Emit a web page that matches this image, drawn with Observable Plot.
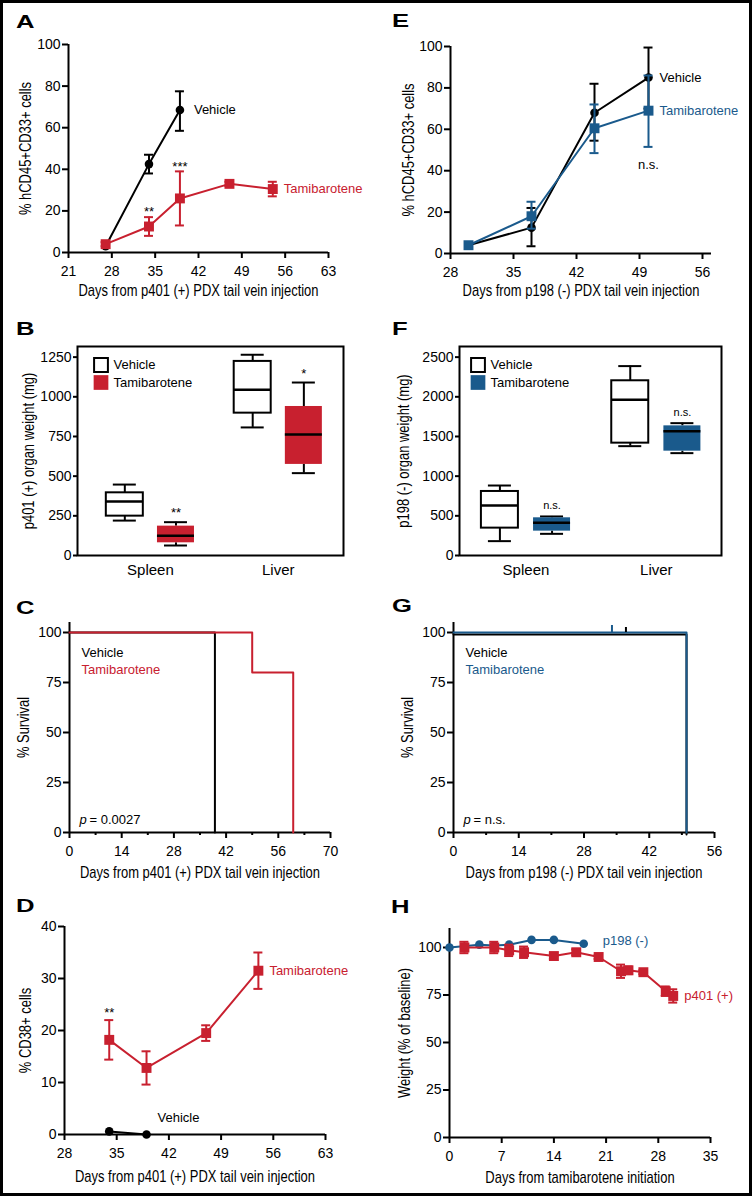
<!DOCTYPE html>
<html>
<head>
<meta charset="utf-8">
<script src="https://cdn.jsdelivr.net/npm/d3@7"></script>
<script src="https://cdn.jsdelivr.net/npm/@observablehq/plot@0.6"></script>
<style>
body { margin: 0; background: #fff; }
#fig { position: relative; width: 752px; height: 1196px; background: #fff; overflow: hidden; font-family: "Liberation Sans", Arial, sans-serif; }
#border { position: absolute; left: 0; top: 0; width: 752px; height: 1196px; box-sizing: border-box; border: 3px solid #000; pointer-events: none; }
.panel { position: absolute; }
.letter { position: absolute; font-weight: bold; font-size: 19px; line-height: 19px; transform: scaleX(1.35); transform-origin: left top; color: #000; }
</style>
</head>
<body>
<div id="fig"><div id="border"></div></div>
<script>
const SANS = '"Liberation Sans", Arial, sans-serif';
const NARROW = '"Liberation Sans Narrow", "Liberation Sans", Arial, sans-serif';
const RED = "#c8202f";
const BLUE = "#1a5a8c";

// ---------- Panel A: p401 (+) engraftment ----------
const aXTicks = [21, 28, 35, 42, 49, 56, 63];
const aYTicks = [0, 20, 40, 60, 80, 100];
const aVehDays = [27, 34, 39];
const aVehMean = [3, 42.5, 68.5];
const aVehLo = [3, 38, 58.5];
const aVehHi = [3, 47, 77.5];
const aTamDays = [27, 34, 39, 47, 54];
const aTamMean = [4, 12.5, 26, 33, 30.5];
const aTamLo = [3, 8, 13, 32, 27];
const aTamHi = [5, 17, 39, 34, 34];
const aTamSig = ["", "**", "***", "", ""];

// ---------- Panel E: p198 (-) engraftment ----------
const eXTicks = [28, 35, 42, 49, 56];
const eYTicks = [0, 20, 40, 60, 80, 100];
const eVehDays = [30, 37, 44, 50];
const eVehMean = [4, 12.5, 68, 85];
const eVehLo = [4, 3.5, 54.5, 70];
const eVehHi = [4, 22, 82, 99.5];
const eTamDays = [30, 37, 44, 50];
const eTamMean = [4, 18, 60.5, 69];
const eTamLo = [4, 12, 48.5, 51.5];
const eTamHi = [4, 25, 72, 86];
const eTamSigBelow = ["", "", "", "n.s."];

// ---------- Panel B: p401 (+) organ weights ----------
const bOrgans = ["Spleen", "Liver"];
const bGroups = ["Vehicle", "Tamibarotene"];
const bOrgan = ["Spleen", "Spleen", "Liver", "Liver"];
const bGroup = ["Vehicle", "Tamibarotene", "Vehicle", "Tamibarotene"];
const bMin = [220, 63, 807, 519];
const bQ1 = [248, 80, 897, 574];
const bMed = [340, 124, 1044, 763];
const bQ3 = [395, 185, 1223, 939];
const bMax = [447, 210, 1265, 1090];
const bSig = ["", "**", "", "*"];
const bYTicks = [0, 250, 500, 750, 1000, 1250];

// ---------- Panel F: p198 (-) organ weights ----------
const fOrgan = ["Spleen", "Spleen", "Liver", "Liver"];
const fGroup = ["Vehicle", "Tamibarotene", "Vehicle", "Tamibarotene"];
const fMin = [181, 273, 1378, 1290];
const fQ1 = [345, 307, 1416, 1315];
const fMed = [630, 412, 1962, 1567];
const fQ3 = [807, 475, 2202, 1634];
const fMax = [882, 492, 2387, 1668];
const fSig = ["", "n.s.", "", "n.s."];
const fYTicks = [0, 500, 1000, 1500, 2000, 2500];

// ---------- Panel C: p401 (+) survival ----------
const cXTicks = [0, 14, 28, 42, 56, 70];
const cXMinor = [7, 21, 35, 49, 63];
const cYTicks = [0, 25, 50, 75, 100];
const cVehDays = [0, 39];
const cVehSurv = [100, 0];
const cTamDays = [0, 49, 60];
const cTamSurv = [100, 80, 0];

// ---------- Panel G: p198 (-) survival ----------
const gXTicks = [0, 14, 28, 42, 56];
const gXMinor = [7, 21, 35, 49];
const gYTicks = [0, 25, 50, 75, 100];
const gVehDays = [0, 50];
const gVehSurv = [100, 0];
const gVehCensor = [37];
const gTamDays = [0, 50];
const gTamSurv = [100, 0];
const gTamCensor = [34];

// ---------- Panel D: CD38+ ----------
const dXTicks = [28, 35, 42, 49, 56, 63];
const dYTicks = [0, 10, 20, 30, 40];
const dTamDays = [34, 39, 47, 54];
const dTamMean = [18.2, 12.8, 19.5, 31.5];
const dTamLo = [14.4, 9.6, 18, 28];
const dTamHi = [22, 16, 21, 35];
const dTamSig = ["**", "", "", ""];
const dVehDays = [34, 39];
const dVehMean = [0.6, 0];

// ---------- Panel H: body weight ----------
const hXTicks = [0, 7, 14, 21, 28, 35];
const hYTicks = [0, 25, 50, 75, 100];
const h198Days = [0, 4, 6, 8, 11, 14, 18];
const h198Pct = [100, 101.5, 101, 101.5, 104, 104, 102];
const h401Days = [2, 6, 8, 10, 14, 17, 20, 23, 24, 26, 29, 30];
const h401Pct = [100, 100, 98.5, 97.5, 95.5, 97.5, 95, 87.5, 88, 87, 77, 74.5];
const h401Err = [3, 3, 3, 3, 1.5, 1.5, 1, 3.5, 2, 1, 2.5, 3.5];

// ---------- helpers ----------
function rows(days, mean, lo, hi, sig) {
  return days.map((d, i) => ({
    x: d, y: mean[i],
    lo: lo ? lo[i] : mean[i],
    hi: hi ? hi[i] : mean[i],
    sig: sig ? sig[i] : ""
  }));
}

// condensed look for axis titles (no narrow font installed): squeeze along the text direction
function condense(svg, ratio) {
  const num = v => v != null && /^-?\d*\.?\d+$/.test(v.trim());
  svg.querySelectorAll('g[font-family*="Narrow"] text').forEach(t => {
    let x = 0, y = 0;
    if (num(t.getAttribute("x"))) { x = +t.getAttribute("x"); t.removeAttribute("x"); }
    if (num(t.getAttribute("y"))) { y = +t.getAttribute("y"); t.removeAttribute("y"); }
    const tr = t.getAttribute("transform") || "";
    t.setAttribute("transform", `${tr} translate(${x},${y}) scale(${ratio},1)`);
  });
}

function mount(svg, left, top) {
  const d = document.createElement("div");
  d.className = "panel";
  d.style.left = left + "px";
  d.style.top = top + "px";
  d.appendChild(svg);
  const fig = document.getElementById("fig");
  fig.insertBefore(d, document.getElementById("border"));
  condense(svg, 0.81);
}

function letter(ch, left, top) {
  const d = document.createElement("div");
  d.className = "letter";
  d.textContent = ch;
  d.style.left = left + "px";
  d.style.top = top + "px";
  document.getElementById("fig").insertBefore(d, document.getElementById("border"));
}

function makePlot(p, marks) {
  return Plot.plot({
    width: 376, height: p.height,
    marginTop: p.m[0], marginRight: p.m[1], marginBottom: p.m[2], marginLeft: p.m[3],
    x: {domain: p.xDomain},
    y: {domain: p.yDomain},
    style: {fontFamily: SANS, fontSize: "13px", color: "black", background: "transparent", overflow: "visible"},
    marks
  });
}

function yTitle(label, dx) {
  return Plot.text([label], {text: d => d, frameAnchor: "left", dx, rotate: -90, textAnchor: "middle", lineAnchor: "middle", fontFamily: NARROW, fontSize: 16});
}

function axesMarks(p) {
  const m = [
    Plot.ruleX([p.xDomain[0]], {stroke: "black", strokeWidth: 2}),
    Plot.ruleY([p.yDomain[0]], {stroke: "black", strokeWidth: 2}),
    Plot.axisX({ticks: p.xTicks, tickSize: 6, tickPadding: 8, strokeWidth: 2, label: null, fontSize: 14, fontFamily: SANS}),
    Plot.axisY({ticks: p.yTicks, tickSize: 6, tickPadding: 2, strokeWidth: 2, label: null, fontSize: 14, fontFamily: SANS, tickFormat: "d"})
  ];
  if (p.xMinor) m.push(Plot.axisX({ticks: p.xMinor, tickSize: 3, strokeWidth: 2, tickFormat: () => "", label: null}));
  m.push(Plot.text([p.xLabel], {text: d => d, frameAnchor: "bottom", dy: p.xLabelDy, textAnchor: "middle", lineAnchor: "middle", fontFamily: NARROW, fontSize: 16}));
  m.push(yTitle(p.yLabel, p.yLabelDx));
  return m;
}

function seriesMarks(s) {
  const data = s.data;
  const err = data.filter(d => d.hi > d.lo);
  const cap = s.cap || 4.5;
  const m = [
    Plot.line(data, {x: "x", y: "y", stroke: s.color, strokeWidth: 2}),
    Plot.ruleX(err, {x: "x", y1: "lo", y2: "hi", stroke: s.color, strokeWidth: 2}),
    Plot.ruleY(err, {x1: "x", x2: "x", y: "lo", stroke: s.color, strokeWidth: 2, insetLeft: -cap, insetRight: -cap}),
    Plot.ruleY(err, {x1: "x", x2: "x", y: "hi", stroke: s.color, strokeWidth: 2, insetLeft: -cap, insetRight: -cap}),
    Plot.dot(data, {x: "x", y: "y", symbol: s.symbol, r: s.r, fill: s.color, stroke: "none"})
  ];
  if (s.label) {
    m.push(Plot.text(data.slice(-1), {x: "x", y: "y", text: () => s.label, dx: s.labelDx, dy: s.labelDy || 0,
      textAnchor: "start", fill: s.labelColor || s.color, fontSize: 13, fontFamily: SANS}));
  }
  const sigs = data.filter(d => d.sig);
  if (sigs.length) {
    m.push(Plot.text(sigs, {x: "x", y: "hi", text: "sig", dy: s.sigDy || -6, fontSize: 13, fill: "black", fontFamily: SANS}));
  }
  return m;
}

// ---------- Panel A ----------
{
  const p = {height: 300, m: [44, 48, 48, 68], xDomain: [21, 63], yDomain: [0, 100], xTicks: aXTicks, yTicks: aYTicks,
    xLabel: "Days from p401 (+) PDX tail vein injection", yLabel: "% hCD45+CD33+ cells", xLabelDy: 38, yLabelDx: -43};
  const marks = [
    ...axesMarks(p),
    ...seriesMarks({data: rows(aVehDays, aVehMean, aVehLo, aVehHi), color: "black", symbol: "circle", r: 4.3, label: "Vehicle", labelDx: 14}),
    ...seriesMarks({data: rows(aTamDays, aTamMean, aTamLo, aTamHi, aTamSig), color: RED, symbol: "square", r: 5.6, label: "Tamibarotene", labelDx: 11, sigDy: -5})
  ];
  mount(makePlot(p, marks), 0, 0);
}

// ---------- Panel E ----------
{
  const p = {height: 300, m: [46, 41, 47, 74], xDomain: [28, 57], yDomain: [0, 100], xTicks: eXTicks, yTicks: eYTicks,
    xLabel: "Days from p198 (-) PDX tail vein injection", yLabel: "% hCD45+CD33+ cells", xLabelDy: 37, yLabelDx: -42};
  const tam = rows(eTamDays, eTamMean, eTamLo, eTamHi, eTamSigBelow);
  const marks = [
    ...axesMarks(p),
    ...seriesMarks({data: rows(eVehDays, eVehMean, eVehLo, eVehHi), color: "black", symbol: "circle", r: 4.3, label: "Vehicle", labelDx: 11}),
    ...seriesMarks({data: tam.map(d => ({...d, sig: ""})), color: BLUE, symbol: "square", r: 5.6, label: "Tamibarotene", labelDx: 11}),
    Plot.text(tam.filter(d => d.sig), {x: "x", y: "lo", text: "sig", dy: 18, fontSize: 13, fill: "black", fontFamily: SANS})
  ];
  mount(makePlot(p, marks), 376, 0);
}

// ---------- Box panels ----------
function boxPanel(p, organ, group, mn, q1, med, q3, mx, sig, color) {
  const off = 0.2;
  const data = organ.map((o, i) => ({
    x: bOrgans.indexOf(o) + (group[i] === bGroups[0] ? -off : off),
    g: group[i], min: mn[i], q1: q1[i], med: med[i], q3: q3[i], max: mx[i], sig: sig[i]
  }));
  const veh = data.filter(d => d.g === bGroups[0]);
  const tam = data.filter(d => d.g === bGroups[1]);
  const bw = 18.5, cw = 11.5;
  const marks = [
    Plot.axisY({ticks: p.yTicks, tickSize: 4, tickPadding: 2, strokeWidth: 2, label: null, fontSize: 14, fontFamily: SANS, tickFormat: "d"}),
    Plot.axisX({ticks: [0, 1], tickFormat: i => bOrgans[i], tickSize: 0, tickPadding: 9, label: null, fontSize: 15, fontFamily: SANS}),
    Plot.ruleX(data, {x: "x", y1: "q3", y2: "max", stroke: "black", strokeWidth: 2}),
    Plot.ruleX(data, {x: "x", y1: "min", y2: "q1", stroke: "black", strokeWidth: 2}),
    Plot.ruleY(data, {x1: "x", x2: "x", y: "max", stroke: "black", strokeWidth: 2, insetLeft: -cw, insetRight: -cw}),
    Plot.ruleY(data, {x1: "x", x2: "x", y: "min", stroke: "black", strokeWidth: 2, insetLeft: -cw, insetRight: -cw}),
    Plot.rect(veh, {x1: "x", x2: "x", y1: "q1", y2: "q3", insetLeft: -bw, insetRight: -bw, fill: "white", stroke: "black", strokeWidth: 2}),
    Plot.rect(tam, {x1: "x", x2: "x", y1: "q1", y2: "q3", insetLeft: -bw, insetRight: -bw, fill: color, stroke: "none"}),
    Plot.ruleY(data, {x1: "x", x2: "x", y: "med", stroke: "black", strokeWidth: 2.5, insetLeft: -bw, insetRight: -bw}),
    Plot.text(data.filter(d => d.sig), {x: "x", y: "max", text: "sig", dy: p.sigDy, fontSize: p.sigSize, fontFamily: SANS, fill: "black"}),
    Plot.frame({stroke: "black", strokeWidth: 2}),
    ...bGroups.map((g, i) => Plot.dot([g], {frameAnchor: "top-left", dx: p.legDx, dy: 18.5 + i * 17.5, symbol: "square", r: i ? 8.3 : 7.8,
      fill: i ? color : "white", stroke: i ? "none" : "black", strokeWidth: 2})),
    ...bGroups.map((g, i) => Plot.text([g], {text: d => d, frameAnchor: "top-left", dx: p.legDx + 12.5, dy: 18.5 + i * 17.5,
      textAnchor: "start", lineAnchor: "middle", fontSize: 13, fontFamily: SANS})),
    yTitle(p.yLabel, p.yLabelDx)
  ];
  return makePlot(p, marks);
}

mount(boxPanel({height: 290, m: [46, 33, 35, 77], xDomain: [-0.57, 1.51], yDomain: [0, 1317], yTicks: bYTicks,
  yLabel: "p401 (+) organ weight (mg)", yLabelDx: -49, legDx: 23.5, sigDy: -9, sigSize: 13},
  bOrgan, bGroup, bMin, bQ1, bMed, bQ3, bMax, bSig, RED), 0, 300);

mount(boxPanel({height: 290, m: [46, 31, 35, 83], xDomain: [-0.51, 1.5], yDomain: [0, 2634], yTicks: fYTicks,
  yLabel: "p198 (-) organ weight (mg)", yLabelDx: -56, legDx: 18.5, sigDy: -11, sigSize: 11},
  fOrgan, fGroup, fMin, fQ1, fMed, fQ3, fMax, fSig, BLUE), 376, 300);

// ---------- Survival panels ----------
function survPanel(p, vehDays, vehSurv, tamDays, tamSurv, color, vehCensor, tamCensor, pText) {
  const veh = vehDays.map((d, i) => ({x: d, y: vehSurv[i]}));
  const tam = tamDays.map((d, i) => ({x: d, y: tamSurv[i]}));
  const marks = [
    ...axesMarks(p),
    Plot.line(veh, {x: "x", y: "y", curve: "step-after", stroke: "black", strokeWidth: 2, dy: p.vehDy || 0}),
    Plot.line(tam, {x: "x", y: "y", curve: "step-after", stroke: color, strokeWidth: 2}),
    Plot.text(["Vehicle"], {text: d => d, frameAnchor: "top-left", dx: 12, dy: 30, textAnchor: "start", lineAnchor: "middle", fontSize: 13, fill: "black"}),
    Plot.text(["Tamibarotene"], {text: d => d, frameAnchor: "top-left", dx: 12, dy: 47, textAnchor: "start", lineAnchor: "middle", fontSize: 13, fill: color}),
    Plot.text(["p"], {text: d => d, frameAnchor: "bottom-left", dx: 10, dy: -13, textAnchor: "start", lineAnchor: "middle", fontSize: 13, fontStyle: "italic"}),
    Plot.text([pText], {text: d => d, frameAnchor: "bottom-left", dx: 20, dy: -13, textAnchor: "start", lineAnchor: "middle", fontSize: 13})
  ];
  if (vehCensor) marks.push(Plot.ruleX(vehCensor.map(d => ({x: d, y: 100})), {x: "x", y1: "y", y2: "y", insetTop: -5, stroke: "black", strokeWidth: 2}));
  if (tamCensor) marks.push(Plot.ruleX(tamCensor.map(d => ({x: d, y: 100})), {x: "x", y1: "y", y2: "y", insetTop: -7, stroke: color, strokeWidth: 2}));
  return makePlot(p, marks);
}

mount(survPanel({height: 300, m: [32, 46, 58, 69], xDomain: [0, 70], yDomain: [0, 105], xTicks: cXTicks, xMinor: cXMinor, yTicks: cYTicks,
  xLabel: "Days from p401 (+) PDX tail vein injection", yLabel: "% Survival", xLabelDy: 40, yLabelDx: -46},
  cVehDays, cVehSurv, cTamDays, cTamSurv, RED, null, null, "= 0.0027"), 0, 590);

mount(survPanel({height: 300, m: [32, 38, 58, 77], xDomain: [0, 56], yDomain: [0, 105], xTicks: gXTicks, xMinor: gXMinor, yTicks: gYTicks,
  xLabel: "Days from p198 (-) PDX tail vein injection", yLabel: "% Survival", xLabelDy: 40, yLabelDx: -46, vehDy: 2},
  gVehDays, gVehSurv, gTamDays, gTamSurv, BLUE, gVehCensor, gTamCensor, "= n.s."), 376, 590);

// ---------- Panel D ----------
{
  const p = {height: 300, m: [36, 51, 56, 64], xDomain: [28, 63], yDomain: [0, 40], xTicks: dXTicks, yTicks: dYTicks,
    xLabel: "Days from p401 (+) PDX tail vein injection", yLabel: "% CD38+ cells", xLabelDy: 42, yLabelDx: -39};
  const marks = [
    ...axesMarks(p),
    ...seriesMarks({data: rows(dVehDays, dVehMean), color: "black", symbol: "circle", r: 4.3, label: "Vehicle", labelDx: 11, labelDy: -17}),
    ...seriesMarks({data: rows(dTamDays, dTamMean, dTamLo, dTamHi, dTamSig), color: RED, symbol: "square", r: 5.6, label: "Tamibarotene", labelDx: 11, sigDy: -7})
  ];
  mount(makePlot(p, marks), 0, 890);
}

// ---------- Panel H ----------
{
  const p = {height: 300, m: [38, 42, 53, 73], xDomain: [0, 35], yDomain: [0, 110], xTicks: hXTicks, yTicks: hYTicks,
    xLabel: "Days from tamibarotene initiation", yLabel: "Weight (% of baseline)", xLabelDy: 40, yLabelDx: -45};
  const r401 = h401Days.map((d, i) => ({x: d, y: h401Pct[i], lo: h401Pct[i] - h401Err[i], hi: h401Pct[i] + h401Err[i], sig: ""}));
  const marks = [
    ...axesMarks(p),
    ...seriesMarks({data: rows(h198Days, h198Pct), color: BLUE, symbol: "circle", r: 4.3, label: "p198 (-)", labelDx: 19, labelDy: -3}),
    ...seriesMarks({data: r401, color: RED, symbol: "square", r: 5.6, label: "p401 (+)", labelDx: 11})
  ];
  mount(makePlot(p, marks), 376, 890);
}

// ---------- panel letters ----------
letter("A", 16, 12);
letter("E", 392, 11);
letter("B", 16, 319);
letter("F", 392, 319);
letter("C", 16, 598);
letter("G", 392, 596);
letter("D", 16, 896);
letter("H", 391, 897);
</script>
</body>
</html>
